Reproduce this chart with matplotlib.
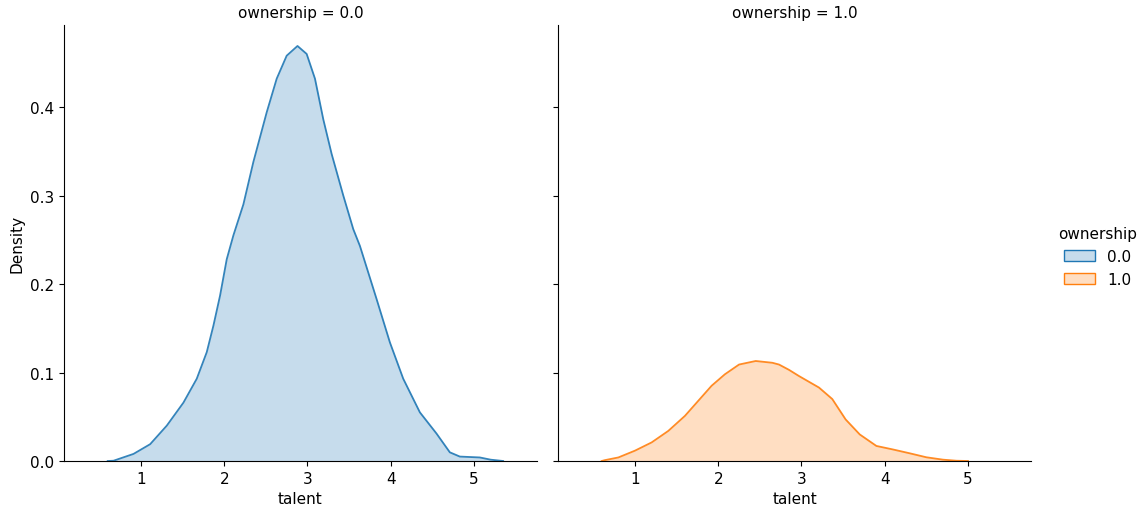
import matplotlib.pyplot as plt
import matplotlib.colors as mcolors
from matplotlib.patches import Patch

# ---- data (KDE of talent, by ownership) ----
talent_own0 = [0.6, 0.67, 0.91, 1.11, 1.31, 1.51, 1.67, 1.79, 1.87, 1.95,
               2.03, 2.11, 2.23, 2.35, 2.51, 2.63, 2.75, 2.88, 2.99, 3.09,
               3.19, 3.29, 3.43, 3.55, 3.63, 3.83, 3.99, 4.15, 4.35, 4.55,
               4.71, 4.83, 5.07, 5.2, 5.35]
density_own0 = [0.0, 0.0003, 0.008, 0.019, 0.040, 0.066, 0.093, 0.123, 0.153,
                0.187, 0.228, 0.255, 0.290, 0.338, 0.394, 0.432, 0.458,
                0.469, 0.460, 0.432, 0.386, 0.347, 0.300, 0.262, 0.243,
                0.183, 0.134, 0.093, 0.055, 0.031, 0.0098, 0.005, 0.004,
                0.0015, 0.0]

talent_own1 = [0.6, 0.64, 0.80, 1.00, 1.20, 1.40, 1.60, 1.76, 1.92, 2.08,
               2.25, 2.45, 2.65, 2.73, 2.85, 2.97, 3.21, 3.37, 3.53, 3.70,
               3.90, 4.10, 4.30, 4.50, 4.70, 4.86, 5.0]
density_own1 = [0.0, 0.001, 0.004, 0.0117, 0.021, 0.034, 0.051, 0.068, 0.085,
                0.098, 0.109, 0.113, 0.111, 0.109, 0.103, 0.096, 0.083,
                0.070, 0.047, 0.030, 0.017, 0.013, 0.0087, 0.0042, 0.0015,
                0.0003, 0.0]

ownership_levels = ["0.0", "1.0"]
colors = ["#1f77b4", "#ff7f0e"]

series = [(talent_own0, density_own0), (talent_own1, density_own1)]

plt.rcParams["font.size"] = 11

fig = plt.figure(figsize=(11.42, 5.10), dpi=100)
ax_w, ax_h = 473 / 1142, 436 / 510
ax_bottom = 48 / 510
ax0 = fig.add_axes([64 / 1142, ax_bottom, ax_w, ax_h])
ax1 = fig.add_axes([558 / 1142, ax_bottom, ax_w, ax_h], sharex=ax0, sharey=ax0)

for ax, level, color, (x, y) in zip([ax0, ax1], ownership_levels, colors, series):
    ax.fill_between(x, y, color=color, alpha=0.25, linewidth=0)
    ax.plot(x, y, color=color, linewidth=1.3, alpha=0.9)
    ax.set_title(f"ownership = {level}", fontsize=11)
    ax.set_xlabel("talent", fontsize=11)
    ax.spines["top"].set_visible(False)
    ax.spines["right"].set_visible(False)

ax0.set_xlim(0.075, 5.757)
ax0.set_ylim(0, 0.4927)
ax0.set_xticks([1, 2, 3, 4, 5])
ax0.set_yticks([0.0, 0.1, 0.2, 0.3, 0.4])
ax0.set_ylabel("Density", fontsize=11)
ax1.tick_params(labelleft=False)

handles = [Patch(facecolor=(*mcolors.to_rgb(c), 0.25), edgecolor=c)
           for c in colors]
fig.legend(handles, ownership_levels, title="ownership", frameon=False,
           loc="center left", bbox_to_anchor=(0.9146, 0.495), fontsize=11,
           title_fontsize=11)

fig.savefig("out.png", dpi=100)
